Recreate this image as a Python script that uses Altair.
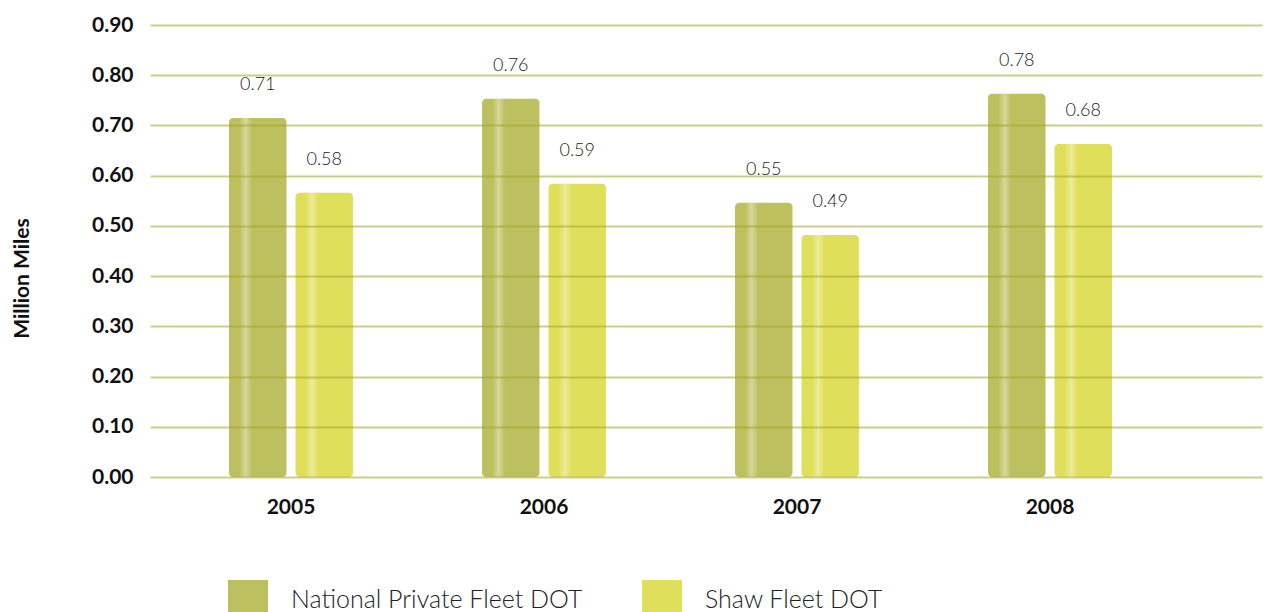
import altair as alt
import pandas as pd

years = ["2005", "2006", "2007", "2008"]
series = ["National Private Fleet DOT", "Shaw Fleet DOT"]
national_bar = [0.715, 0.753, 0.546, 0.763]
shaw_bar = [0.566, 0.584, 0.482, 0.663]
national_label = ["0.71", "0.76", "0.55", "0.78"]
shaw_label = ["0.58", "0.59", "0.49", "0.68"]
colors = ["#bdc05e", "#e0df5b"]

rows = []
for i, y in enumerate(years):
    rows.append({"year": y, "series": series[0], "value": national_bar[i], "label": national_label[i]})
    rows.append({"year": y, "series": series[1], "value": shaw_bar[i], "label": shaw_label[i]})
df = pd.DataFrame(rows)

FONT = "Lato"

x_enc = alt.X("year:N", title=None,
              scale=alt.Scale(paddingInner=0.51, paddingOuter=0.4526, align=0.345),
              axis=alt.Axis(labelAngle=0, labelFont=FONT, labelFontWeight="bold", labelFontSize=21,
                            labelColor="#111111", labelPadding=19, ticks=False, domain=False, grid=False))
xo_enc = alt.XOffset("series:N", sort=series, scale=alt.Scale(paddingInner=0.135, paddingOuter=0))
y_enc = alt.Y("value:Q", stack=None, title="Million Miles",
              scale=alt.Scale(domain=[0, 0.9], nice=False),
              axis=alt.Axis(values=[0, 0.1, 0.2, 0.3, 0.4, 0.5, 0.6, 0.7, 0.8, 0.9], format=".2f",
                            labelFont=FONT, labelFontWeight="bold", labelFontSize=21, labelColor="#111111",
                            labelPadding=17, ticks=False, domain=False, grid=True,
                            gridColor="#9ea52a", gridOpacity=0.55, gridWidth=2, zindex=1))

base = alt.Chart(df)

bars = base.mark_bar(cornerRadius=4).encode(
    x=x_enc, xOffset=xo_enc, y=y_enc,
    color=alt.Color("series:N", sort=series,
                    scale=alt.Scale(domain=series, range=colors),
                    legend=alt.Legend(title=None, orient="none", legendX=78, legendY=555,
                                      direction="horizontal", symbolType="square", symbolSize=1600,
                                      symbolStrokeWidth=0, symbolOpacity=1, labelFont=FONT,
                                      labelFontSize=25, labelFontWeight=300, labelColor="#222222",
                                      labelOffset=23, columnPadding=59, labelLimit=400)),
)

stripe = base.mark_bar(cornerRadius=4, color=alt.Gradient(
    gradient="linear", x1=0, x2=1, y1=0, y2=0,
    stops=[alt.GradientStop(offset=0, color="rgba(255,255,255,0)"),
           alt.GradientStop(offset=0.18, color="rgba(255,255,255,0)"),
           alt.GradientStop(offset=0.29, color="rgba(255,255,255,0.38)"),
           alt.GradientStop(offset=0.40, color="rgba(255,255,255,0)"),
           alt.GradientStop(offset=1, color="rgba(255,255,255,0)")])).encode(
    x=alt.X("year:N"), xOffset=alt.XOffset("series:N", sort=series), y=alt.Y("value:Q", stack=None),
)

labels = base.mark_text(font=FONT, fontSize=18, fontWeight=300, color="#222222", dy=-33).encode(
    x=alt.X("year:N"), xOffset=alt.XOffset("series:N", sort=series), y=alt.Y("value:Q", stack=None),
    text="label:N",
)

chart = alt.layer(bars, stripe, labels).properties(
    width=1112, height=452,
    autosize=alt.AutoSizeParams(type="none"),
    padding={"left": 142, "top": 17, "right": 1, "bottom": 145},
).configure_view(stroke=None).configure_axisY(
    titleFont=FONT, titleFontWeight="bold", titleFontSize=21, titleColor="#111111",
    titleX=-128, titleY=253, titleAlign="center", titleBaseline="middle", titleAngle=-90,
)

chart.save("out.html", embed_options={"renderer": "svg", "actions": False})
